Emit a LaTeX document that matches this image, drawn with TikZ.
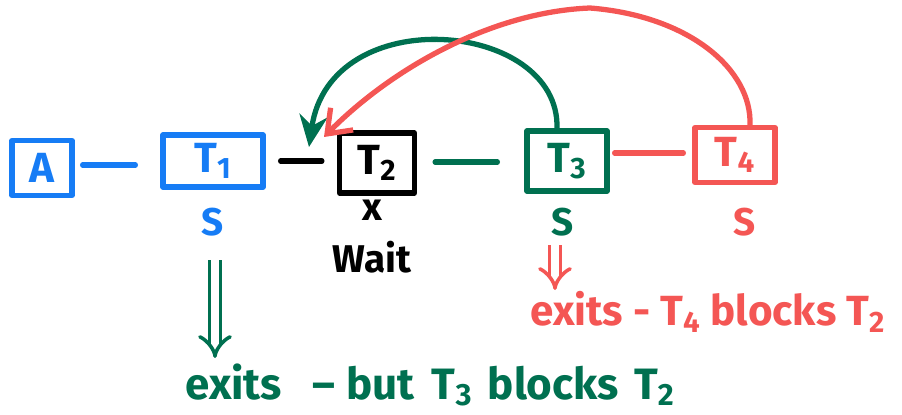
\documentclass[tikz,border=0pt]{standalone}
\usepackage{fontspec}
\setmainfont{Fira Sans}
\usetikzlibrary{arrows.meta}
\definecolor{cblue}{RGB}{22,124,245}
\definecolor{cgreen}{RGB}{0,112,80}
\definecolor{cred}{RGB}{244,86,84}
\tikzset{
  box/.style={draw, line width=3pt, line join=round, inner sep=0pt, font=\bfseries\fontsize{24}{28}\selectfont},
  lbl/.style={inner sep=0pt, font=\bfseries\fontsize{22}{26}\selectfont},
  link/.style={line width=3pt, line cap=round},
  big/.style={inner sep=0pt, anchor=west, font=\bfseries\fontsize{25}{30}\selectfont},
  dbl/.style={double, double distance=4.5pt, line width=2pt, -{Implies}},
  curved/.style={line width=3pt, line cap=round},
}
\begin{document}
\begin{tikzpicture}[x=0.02cm,y=-0.02cm]
\useasboundingbox (0,0) rectangle (902,415);
% boxes
\node[box, cblue, minimum width=1.2cm, minimum height=1.1cm] (a) at (42,168) {A};
\node[box, cblue, minimum width=2.0cm, minimum height=1.04cm] (t1) at (213,161) {T\textsubscript{1}};
\node[box, black, minimum width=1.5cm, minimum height=1.2cm] (t2) at (377,163) {T\textsubscript{2}};
\node[box, cgreen, minimum width=1.6cm, minimum height=1.2cm] (t3) at (567,161) {T\textsubscript{3}};
\node[box, cred, minimum width=1.6cm, minimum height=1.1cm] (t4) at (735,155) {T\textsubscript{4}};
% labels
\node[lbl, cblue] (s1) at (213,222) {S};
\node[lbl, black] (x2) at (372,210) {x};
\node[lbl, black] (w2) at (372,257) {Wait};
\node[lbl, cgreen] (s3) at (563,222) {S};
\node[lbl, cred] (s4) at (745,222) {S};
% links
\draw[link, cblue] ([xshift=0.16cm, yshift=0.06cm]a.east) -- ([xshift=-0.5cm, yshift=0.06cm]a.east -| t1.west);
\draw[link, black] ([xshift=0.3cm]t1.east) -- ([xshift=-0.3cm]t1.east -| t2.west);
\draw[link, cgreen] ([xshift=0.36cm, yshift=0.02cm]t2.east) -- ([xshift=-0.54cm, yshift=0.02cm]t2.east -| t3.west);
\draw[link, cred] ([xshift=0.1cm, yshift=0.16cm]t3.east) -- ([xshift=-0.18cm, yshift=0.16cm]t3.east -| t4.west);
% curved arrows
\coordinate (gend) at (309,147);
\coordinate (rend) at (324,137);
\draw[curved, cgreen, -{Stealth[length=18pt, width=16pt]}] ([xshift=-0.2cm]t3.north) .. controls (560,20) and (330,0) .. (gend);
\draw[curved, cred, -{Straight Barb[length=12pt, width=18pt, line width=3pt]}] ([xshift=0.3cm]t4.north) .. controls (752,70) and (690,16) .. (590,8) .. controls (490,12) and (390,70) .. (rend);
% double arrows and texts
\coordinate (g1) at (215,260);
\coordinate (g2) at (215,358);
\draw[dbl, cgreen] (g1) -- (g2);
\coordinate (r1) at (555,245);
\coordinate (r2) at (555,290);
\draw[dbl, cred] (r1) -- (r2);
\node[big, cgreen] (gtxt) at (185,385) {exits\hspace{0.7em}-- but\hspace{0.4em}T\textsubscript{3}\hspace{0.35em}blocks\hspace{0.35em}T\textsubscript{2}};
\node[big, cred, font=\bfseries\fontsize{24}{28}\selectfont] (rtxt) at (530,312) {exits - T\textsubscript{4} blocks T\textsubscript{2}};
\end{tikzpicture}
\end{document}
